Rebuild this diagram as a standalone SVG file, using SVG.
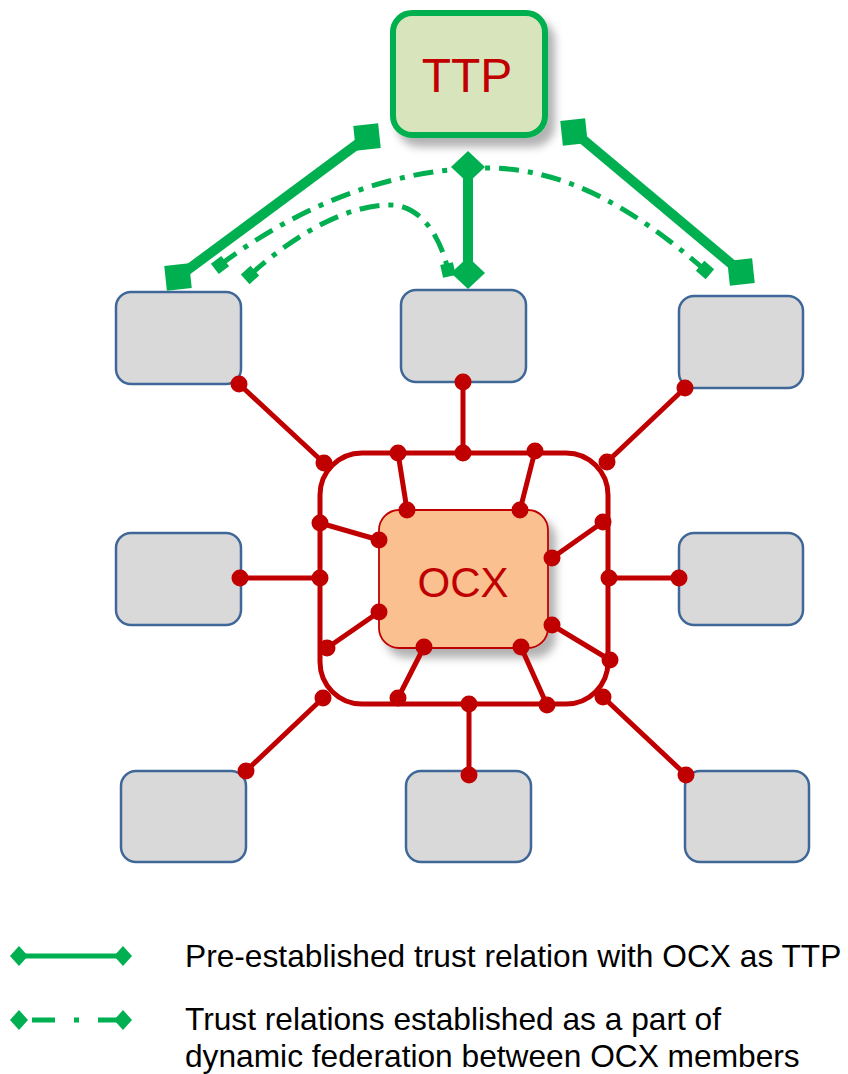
<svg xmlns="http://www.w3.org/2000/svg" width="848" height="1074" viewBox="0 0 848 1074">
  <style>
    .member { fill: #d9d9d9; stroke: #3f6797; stroke-width: 2.5; }
    .red { stroke: #c00000; stroke-width: 5; fill: none; stroke-linecap: round; }
    .dot { fill: #c00000; }
    .solid { stroke: #00b050; stroke-width: 10; fill: none; }
    .dashdot { stroke: #00b050; stroke-width: 5; fill: none; stroke-dasharray: 20 9 5 9; }
    .label { font-family: "Liberation Sans", Arial, sans-serif; fill: #c00000; text-anchor: middle; }
    .legend { font-family: "Liberation Sans", Arial, sans-serif; font-size: 31.7px; fill: #000; }
  </style>
  <defs>
    <filter id="shadow" x="-20%" y="-20%" width="150%" height="150%">
      <feDropShadow dx="7" dy="9" stdDeviation="4" flood-color="#000" flood-opacity="0.3"/>
    </filter>
    <marker id="sq" markerUnits="userSpaceOnUse" markerWidth="30" markerHeight="30" refX="15" refY="15" orient="-6">
      <rect x="2.5" y="2.5" width="25" height="25" fill="#00b050"/>
    </marker>
    <marker id="dia" markerUnits="userSpaceOnUse" markerWidth="36" markerHeight="34" refX="18" refY="17" orient="0">
      <path d="M18,1 L35,17 L18,33 L1,17 Z" fill="#00b050"/>
    </marker>
    <marker id="sqs" markerUnits="userSpaceOnUse" markerWidth="16" markerHeight="16" refX="8" refY="8" orient="auto">
      <rect x="1.5" y="1.5" width="13" height="13" fill="#00b050"/>
    </marker>
    <marker id="ldia" markerUnits="userSpaceOnUse" markerWidth="20" markerHeight="22" refX="10" refY="11" orient="0">
      <path d="M10,1 L19,11 L10,21 L1,11 Z" fill="#00b050"/>
    </marker>
  </defs>

  <!-- trusted third party -->
  <g id="ttp">
    <rect x="393" y="13" width="152" height="122" rx="19" fill="#d8e4bc" stroke="#00b050" stroke-width="6" filter="url(#shadow)"/>
    <text class="label" x="467" y="92" font-size="48">TTP</text>
  </g>

  <!-- member nodes -->
  <g id="member-top-left"><rect class="member" x="116" y="292" width="125" height="92" rx="15"/></g>
  <g id="member-top-middle"><rect class="member" x="401" y="290" width="125" height="92" rx="15"/></g>
  <g id="member-top-right"><rect class="member" x="679" y="296" width="124" height="92" rx="15"/></g>
  <g id="member-middle-left"><rect class="member" x="116" y="533" width="125" height="92" rx="15"/></g>
  <g id="member-middle-right"><rect class="member" x="679" y="533" width="124" height="92" rx="15"/></g>
  <g id="member-bottom-left"><rect class="member" x="121" y="771" width="125" height="91" rx="15"/></g>
  <g id="member-bottom-middle"><rect class="member" x="406" y="771" width="125" height="91" rx="15"/></g>
  <g id="member-bottom-right"><rect class="member" x="685" y="771" width="124" height="91" rx="15"/></g>

  <!-- exchange core -->
  <g id="ocx">
    <rect x="379" y="510" width="169" height="138" rx="20" fill="#fac090" stroke="#c00000" stroke-width="1.8" filter="url(#shadow)"/>
    <text class="label" x="463" y="597" font-size="42">OCX</text>
  </g>

  <g id="connectors">
    <!-- exchange ring -->
    <rect class="red" x="320" y="453" width="288" height="251" rx="42" stroke-width="7"/>

    <!-- member links to the ring -->
    <line class="red" x1="239" y1="384" x2="324" y2="463"/>
    <line class="red" x1="463" y1="382" x2="463" y2="453"/>
    <line class="red" x1="685" y1="388" x2="607" y2="462"/>
    <line class="red" x1="240" y1="578" x2="320" y2="578"/>
    <line class="red" x1="679" y1="578" x2="609" y2="578"/>
    <line class="red" x1="246" y1="771" x2="323" y2="698"/>
    <line class="red" x1="469" y1="775" x2="469" y2="704"/>
    <line class="red" x1="686" y1="775" x2="603" y2="697"/>

    <!-- ring links to the core -->
    <line class="red" x1="398" y1="453" x2="407" y2="510"/>
    <line class="red" x1="535" y1="451" x2="520" y2="510"/>
    <line class="red" x1="320" y1="523" x2="379" y2="540"/>
    <line class="red" x1="603" y1="522" x2="552" y2="558"/>
    <line class="red" x1="327" y1="648" x2="379" y2="612"/>
    <line class="red" x1="610" y1="660" x2="552" y2="625"/>
    <line class="red" x1="398" y1="698" x2="424" y2="647"/>
    <line class="red" x1="547" y1="705" x2="521" y2="647"/>

    <!-- joints -->
    <g class="dot">
      <circle cx="239" cy="384" r="8.5"/><circle cx="463" cy="382" r="8.5"/><circle cx="685" cy="388" r="8.5"/>
      <circle cx="240" cy="578" r="8.5"/><circle cx="679" cy="578" r="8.5"/>
      <circle cx="246" cy="771" r="8.5"/><circle cx="469" cy="775" r="8.5"/><circle cx="686" cy="775" r="8.5"/>
      <circle cx="324" cy="463" r="8.5"/><circle cx="463" cy="453" r="8.5"/><circle cx="607" cy="462" r="8.5"/>
      <circle cx="320" cy="578" r="8.5"/><circle cx="609" cy="578" r="8.5"/>
      <circle cx="323" cy="698" r="8.5"/><circle cx="469" cy="704" r="8.5"/><circle cx="603" cy="697" r="8.5"/>
      <circle cx="398" cy="453" r="8.5"/><circle cx="535" cy="451" r="8.5"/>
      <circle cx="320" cy="523" r="8.5"/><circle cx="603" cy="522" r="8.5"/>
      <circle cx="327" cy="648" r="8.5"/><circle cx="610" cy="660" r="8.5"/>
      <circle cx="398" cy="698" r="8.5"/><circle cx="547" cy="705" r="8.5"/>
      <circle cx="407" cy="510" r="8.5"/><circle cx="520" cy="510" r="8.5"/>
      <circle cx="379" cy="540" r="8.5"/><circle cx="552" cy="558" r="8.5"/>
      <circle cx="379" cy="612" r="8.5"/><circle cx="552" cy="625" r="8.5"/>
      <circle cx="424" cy="647" r="8.5"/><circle cx="521" cy="647" r="8.5"/>
    </g>

    <!-- pre-established trust with the TTP -->
    <path class="solid" d="M367,137 L178,277" marker-start="url(#sq)" marker-end="url(#sq)"/>
    <path class="solid" d="M574,132 L741,272" marker-start="url(#sq)" marker-end="url(#sq)"/>
    <path class="solid" d="M468,167 L468,273" stroke-width="7" marker-start="url(#dia)" marker-end="url(#dia)"/>

    <!-- dynamic federation trust -->
    <path class="dashdot" d="M220,265 C300,205 390,170 480,168 C560,166 630,205 705,270" marker-start="url(#sqs)" marker-end="url(#sqs)"/>
    <path class="dashdot" d="M250,275 C300,230 350,205 390,205 C420,205 440,235 448,270" marker-start="url(#sqs)" marker-end="url(#sqs)"/>
  </g>

  <!-- legend -->
  <g id="legend">
    <path d="M19,956 H123" stroke="#00b050" stroke-width="5" marker-start="url(#ldia)" marker-end="url(#ldia)"/>
    <path d="M19,1020 H123" stroke="#00b050" stroke-width="5" stroke-dasharray="0 13 23 19 5 19 30" marker-start="url(#ldia)" marker-end="url(#ldia)"/>
    <text class="legend" x="185" y="967">Pre-established trust relation with OCX as TTP</text>
    <text class="legend" x="185" y="1030">Trust relations established as a part of</text>
    <text class="legend" x="185" y="1067">dynamic federation between OCX members</text>
  </g>
</svg>
